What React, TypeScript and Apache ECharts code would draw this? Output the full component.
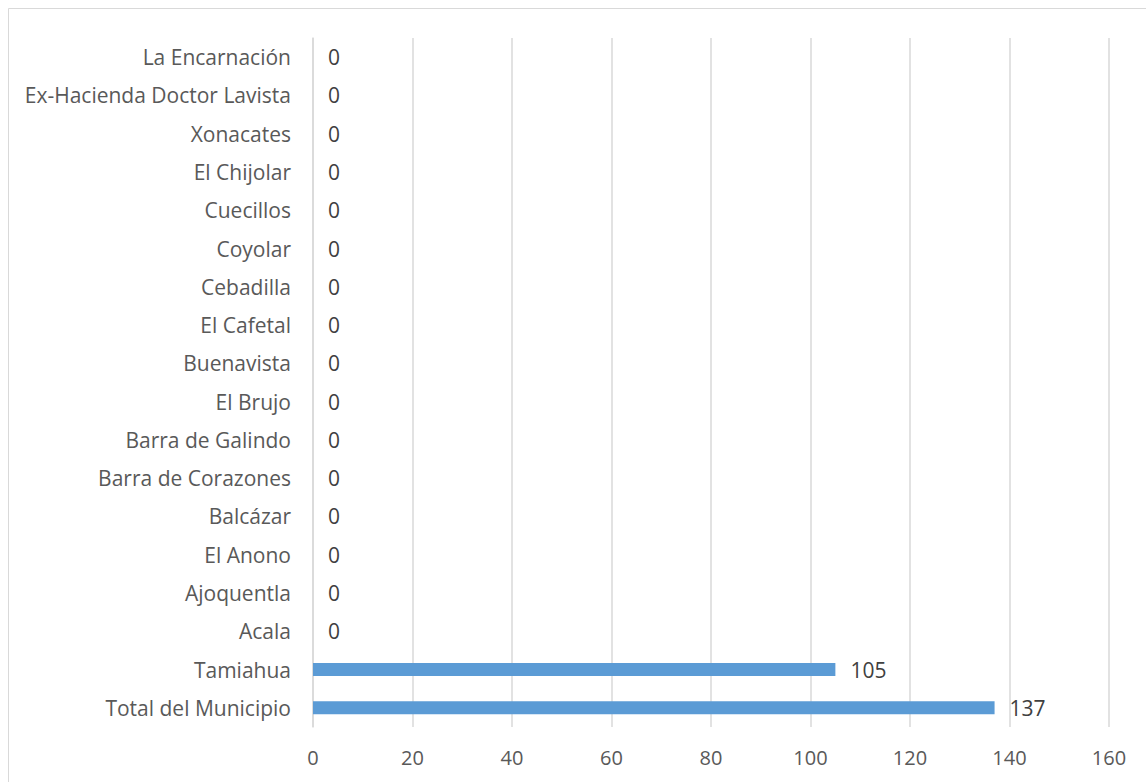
import React, { useEffect, useRef } from "react";
import * as echarts from "echarts";

const categories = [
  "Total del Municipio",
  "Tamiahua",
  "Acala",
  "Ajoquentla",
  "El Anono",
  "Balcázar",
  "Barra de Corazones",
  "Barra de Galindo",
  "El Brujo",
  "Buenavista",
  "El Cafetal",
  "Cebadilla",
  "Coyolar",
  "Cuecillos",
  "El Chijolar",
  "Xonacates",
  "Ex-Hacienda Doctor Lavista",
  "La Encarnación",
];
const values = [137, 105, 0, 0, 0, 0, 0, 0, 0, 0, 0, 0, 0, 0, 0, 0, 0, 0];
const xTicks = [0, 20, 40, 60, 80, 100, 120, 140, 160];

const FONT = "'Open Sans', 'Noto Sans', sans-serif";

export default function App() {
  const ref = useRef<HTMLDivElement>(null);
  useEffect(() => {
    if (!ref.current) return;
    const chart = echarts.init(ref.current, undefined, { renderer: "svg" });
    chart.setOption({
      animation: false,
      backgroundColor: "#ffffff",
      graphic: [
        {
          type: "rect",
          shape: { x: 8.5, y: 8.5, width: 1150, height: 790 },
          style: { fill: "none", stroke: "#d9d9d9", lineWidth: 1 },
          silent: true,
        },
      ],
      grid: { left: 313, right: 37, top: 38, bottom: 55, containLabel: false },
      xAxis: {
        type: "value",
        min: xTicks[0],
        max: xTicks[xTicks.length - 1],
        interval: 20,
        axisLine: { show: false },
        axisTick: { show: false },
        splitLine: { show: true, lineStyle: { color: "#d9d9d9", width: 1.5 } },
        axisLabel: {
          color: "#595959",
          fontSize: 20,
          fontFamily: FONT,
          margin: 20,
        },
      },
      yAxis: {
        type: "category",
        data: categories,
        axisLine: { show: true, lineStyle: { color: "#d9d9d9", width: 1.5 } },
        axisTick: { show: false },
        axisLabel: {
          color: "#595959",
          fontSize: 21,
          fontFamily: FONT,
          margin: 22,
        },
      },
      series: [
        {
          type: "bar",
          data: values,
          barWidth: 13,
          itemStyle: { color: "#5b9bd5" },
          label: {
            show: true,
            position: "right",
            distance: 15,
            color: "#404040",
            fontSize: 21,
            fontFamily: FONT,
          },
        },
      ],
    });
    return () => chart.dispose();
  }, []);
  return (
    <div
      ref={ref}
      style={{ position: "fixed", left: 0, top: 0, width: 1146, height: 782 }}
    />
  );
}
